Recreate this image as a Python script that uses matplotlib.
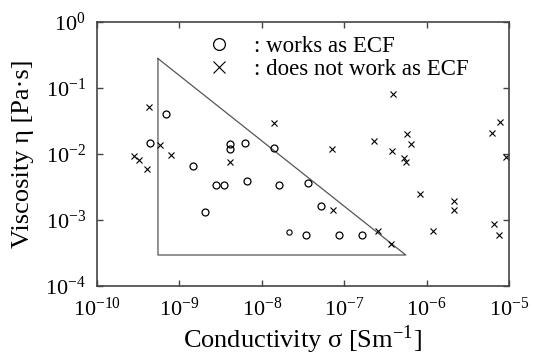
import matplotlib
matplotlib.use("Agg")
import matplotlib.pyplot as plt
import numpy as np

plt.rcParams['font.family'] = ['Liberation Serif', 'DejaVu Serif']
plt.rcParams['mathtext.fontset'] = 'stix'

# works as ECF (circles)
works_sigma = [6.9e-10, 4.4e-10, 1.45e-9, 4.1e-9, 4.1e-9, 6.2e-9, 1.39e-8,
               2.8e-9, 3.5e-9, 6.6e-9, 1.6e-8, 3.6e-8, 2.06e-9, 5.3e-8,
               3.4e-8, 8.7e-8, 1.66e-7]
works_eta = [0.040, 0.0148, 0.0067, 0.0142, 0.0118, 0.0147, 0.0123,
             0.0034, 0.0034, 0.00386, 0.0034, 0.0037, 0.00132, 0.00163,
             0.00059, 0.00059, 0.00059]
# small circle
small_sigma = [2.16e-8]
small_eta = [0.00067]

# does not work as ECF (crosses)
notwork_sigma = [4.3e-10, 1.39e-8, 3.94e-7, 7.8e-6, 5.9e-10, 2.8e-10, 3.2e-10,
                 4.0e-10, 8.0e-10, 4.1e-9, 7.2e-8, 2.3e-7, 3.8e-7, 5.8e-7,
                 6.5e-7, 5.3e-7, 5.6e-7, 6.3e-6, 9.1e-6, 7.4e-8, 8.3e-7,
                 2.15e-6, 2.15e-6, 1.2e-6, 6.6e-6, 7.6e-6, 2.6e-7, 3.66e-7]
notwork_eta = [0.052, 0.030, 0.080, 0.031, 0.0137, 0.0093, 0.0081,
               0.0059, 0.0096, 0.0077, 0.0118, 0.0159, 0.0111, 0.0199,
               0.0142, 0.0086, 0.0075, 0.0206, 0.0091, 0.00142, 0.0025,
               0.00196, 0.00142, 0.00068, 0.00088, 0.00059, 0.00068, 0.00044]

# triangle region
tri_sigma = [5.5e-10, 5.5e-10, 5.6e-7, 5.5e-10]
tri_eta = [0.28, 2.95e-4, 2.95e-4, 0.28]

fig = plt.figure(figsize=(5.34, 3.56), dpi=100)
ax = fig.add_axes([0.1816, 0.1966, 0.953 - 0.1816, 0.938 - 0.1966])

ax.plot(tri_sigma, tri_eta, color='#555555', linewidth=0.9)
ax.plot(works_sigma, works_eta, linestyle='none', marker='o', markersize=5,
        markerfacecolor='none', markeredgecolor='black', markeredgewidth=0.9,
        label=': works as ECF')
ax.plot(small_sigma, small_eta, linestyle='none', marker='o', markersize=3.8,
        markerfacecolor='none', markeredgecolor='black', markeredgewidth=0.8)
ax.plot(notwork_sigma, notwork_eta, linestyle='none', marker='x', markersize=5,
        color='black', markeredgewidth=0.8, label=': does not work as ECF')

ax.set_xscale('log')
ax.set_yscale('log')
ax.set_xlim(1e-10, 1e-5)
ax.set_ylim(1e-4, 1e0)
ax.set_xticks([1e-10, 1e-9, 1e-8, 1e-7, 1e-6, 1e-5])
ax.set_yticks([1e-4, 1e-3, 1e-2, 1e-1, 1e0])
ax.minorticks_off()
ax.tick_params(direction='in', length=4, width=1, top=True, right=True,
               labelsize=16, pad=8, color='#444444')
for s in ax.spines.values():
    s.set_color('#444444')
    s.set_linewidth(1.2)

ax.set_xlabel('Conductivity σ [Sm$^{\\mathregular{-1}}$]', fontsize=19, labelpad=2)
ax.set_ylabel('Viscosity η [Pa·s]', fontsize=19, labelpad=8)

ax.legend(loc='upper left', bbox_to_anchor=(0.23, 1.0), frameon=False,
          fontsize=16.5, markerscale=1.7, handlelength=1.2, handletextpad=0.9,
          labelspacing=0.1, borderaxespad=0.2)

fig.savefig('out.png', dpi=100)
